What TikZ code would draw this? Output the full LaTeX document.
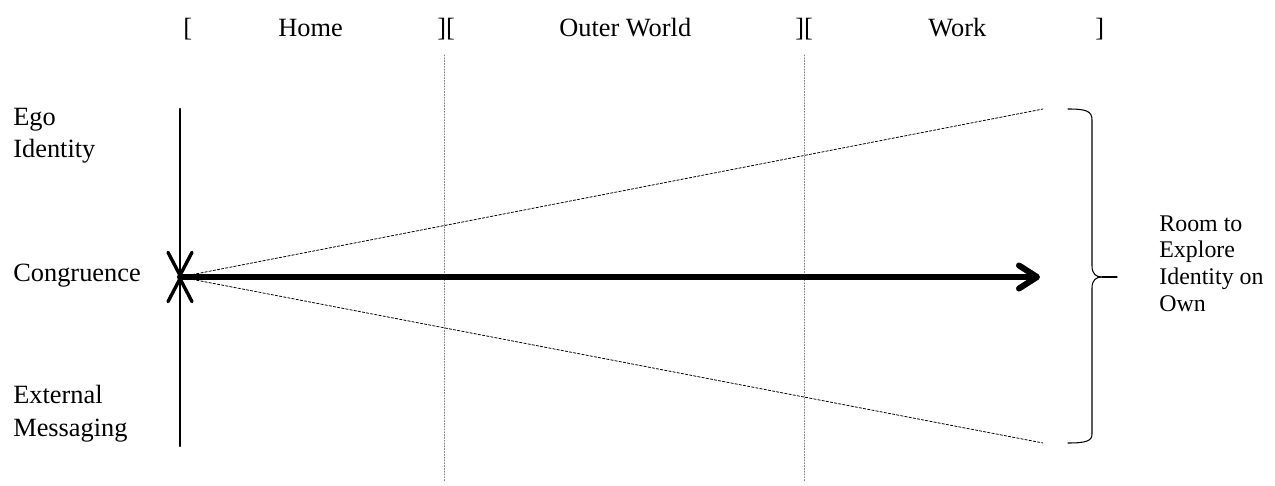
\documentclass[tikz,border=0pt]{standalone}
\usepackage{fontspec}
\setmainfont{Liberation Serif}
\usetikzlibrary{arrows.meta}

\begin{document}
\begin{tikzpicture}[line cap=round,line join=round,
    lbl/.style={anchor=base west,inner sep=0pt,font=\fontsize{15}{18}\selectfont},
    sidelbl/.style={anchor=base west,inner sep=0pt,font=\fontsize{13.6}{16}\selectfont},
    guide/.style={line width=0.45pt,gray,dash pattern=on 0.6pt off 1pt},
    spread/.style={line width=0.45pt,dash pattern=on 1.4pt off 1pt},
    axis/.style={line width=1.4pt,-{Straight Barb[length=0.46cm,width=0.48cm,line width=1.9pt,round]}},
    aimline/.style={line width=3.4pt,-{Straight Barb[length=0.36cm,width=0.46cm,round]}},
    shadow/.style={black!18,shift={(0.03,-0.05)}}]
  \useasboundingbox (0,0) rectangle (25.5,9.7);
  % points of the axes
  \coordinate (origin) at (3.60,4.16);
  \coordinate (egotop) at (3.60,7.52);
  \coordinate (extbot) at (3.60,0.78);
  \coordinate (aim) at (20.80,4.16);
  \coordinate (upend) at (20.86,7.52);
  \coordinate (loend) at (20.86,0.84);
  \coordinate (bracetip) at (22.04,4.16);
  \coordinate (braceout) at (22.34,4.16);
  % header
  \node[lbl] (openhome) at (3.66,8.96) {[};
  \node[lbl] (home) at (5.56,8.96) {Home};
  \node[lbl] (splitone) at (8.74,8.96) {][};
  \node[lbl] (outer) at (11.18,8.96) {Outer World};
  \node[lbl] (splittwo) at (15.90,8.96) {][};
  \node[lbl] (work) at (18.56,8.96) {Work};
  \node[lbl] (closework) at (21.90,8.96) {]};
  % left side
  \node[lbl] (ego) at (0.26,7.18) {Ego};
  \node[lbl] (identity) at (0.26,6.54) {Identity};
  \node[lbl] (congruence) at (0.26,4.06) {Congruence};
  \node[lbl] (external) at (0.26,1.64) {External};
  \node[lbl] (messaging) at (0.26,0.98) {Messaging};
  % right side
  \node[sidelbl] (room) at (23.18,5.06) {Room to};
  \node[sidelbl] (explore) at (23.18,4.54) {Explore};
  \node[sidelbl] (idon) at (23.18,4.00) {Identity on};
  \node[sidelbl] (own) at (23.18,3.46) {Own};
  % stage borders
  \draw[guide] (8.88,8.60) -- (8.88,0.06);
  \draw[guide] (16.08,8.60) -- (16.08,0.06);
  % widening room
  \draw[spread] (origin) -- (upend);
  \draw[spread] (origin) -- (loend);
  % the axes, soft shadow first
  \draw[axis,shadow] (egotop) -- (origin);
  \draw[axis,shadow] (extbot) -- (origin);
  \draw[aimline,shadow] (origin) -- (aim);
  \draw[axis] (egotop) -- (origin);
  \draw[axis] (extbot) -- (origin);
  \draw[aimline] (origin) -- (aim);
  % brace
  \draw[line width=0.6pt] (21.36,7.52) .. controls (21.72,7.52) and (21.84,7.48) .. (21.84,7.30)
    -- (21.84,4.38) .. controls (21.84,4.22) and (21.92,4.16) .. (bracetip)
    .. controls (21.92,4.16) and (21.84,4.10) .. (21.84,3.94)
    -- (21.84,1.02) .. controls (21.84,0.88) and (21.72,0.84) .. (21.36,0.84);
  \draw[line width=0.6pt] (bracetip) -- (braceout);
\end{tikzpicture}
\end{document}
